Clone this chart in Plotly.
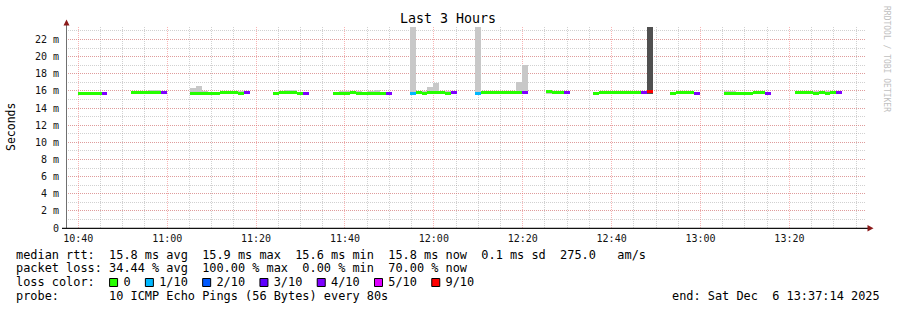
import plotly.graph_objects as go
from datetime import datetime, timedelta

# ---------------- data ----------------
START = datetime(2025, 12, 6, 10, 37, 14)
END = datetime(2025, 12, 6, 13, 37, 14)
STEP_S = 80
N = None

# median rtt per 80 s sample (ms); None = no data
median_ms = [
    N, N, 15.64, 15.64, 15.64, 15.72, 15.72, N, N, N,
    N, 15.86, 15.86, 15.84, 15.86, 15.86, 15.80, N, N, N,
    N, 15.72, 15.72, 15.72, 15.72, 15.72, 15.76, 15.78, 15.78, 15.74,
    15.78, N, N, N, N, 15.74, 15.76, 15.76, 15.76, 15.72,
    15.72, N, N, N, N, 15.74, 15.74, 15.74, 15.76, 15.74,
    15.74, 15.74, 15.72, 15.74, 15.72, N, N, N, 15.73, 15.82,
    15.72, 15.82, 15.82, 15.84, 15.74, 15.76, N, N, N, 15.73,
    15.80, 15.80, 15.80, 15.80, 15.76, 15.80, 15.78, 15.76, N, N,
    N, 15.88, 15.84, 15.84, 15.82, N, N, N, N, 15.74,
    15.84, 15.84, 15.84, 15.84, 15.84, 15.84, 15.84, 15.78, 15.88, N,
    N, N, 15.74, 15.84, 15.84, 15.84, 15.72, N, N, N,
    N, 15.74, 15.74, 15.74, 15.74, 15.74, 15.78, 15.78, 15.74, N,
    N, N, N, 15.84, 15.84, 15.80, 15.74, 15.84, 15.74, 15.84,
    15.84, N, N, N, N,
]
# smoke (spread of the 10 pings): lowest and highest rtt (ms)
smoke_lo_ms = [
    N, N, 15.58, 15.58, 15.60, 15.62, 15.62, N, N, N,
    N, 15.60, 15.60, 15.60, 15.70, 15.70, 15.72, N, N, N,
    N, 15.60, 15.60, 15.60, 15.60, 15.62, 15.62, 15.60, 15.60, 15.58,
    15.60, N, N, N, N, 15.62, 15.58, 15.58, 15.60, 15.60,
    15.62, N, N, N, N, 15.62, 15.62, 15.62, 15.62, 15.62,
    15.60, 15.58, 15.58, 15.62, 15.62, N, N, N, 15.60, 15.65,
    15.60, 15.65, 15.65, 15.65, 15.62, 15.65, N, N, N, 15.60,
    15.62, 15.62, 15.62, 15.62, 15.62, 15.62, 15.62, 15.62, N, N,
    N, 15.60, 15.60, 15.60, 15.60, N, N, N, N, 15.62,
    15.60, 15.60, 15.60, 15.60, 15.60, 15.60, 15.60, 15.62, 15.62, N,
    N, N, 15.62, 15.60, 15.60, 15.60, 15.62, N, N, N,
    N, 15.62, 15.62, 15.60, 15.60, 15.60, 15.60, 15.62, 15.62, N,
    N, N, N, 15.70, 15.70, 15.62, 15.62, 15.62, 15.62, 15.62,
    15.62, N, N, N, N,
]
smoke_hi_ms = [
    N, N, 15.75, 15.75, 15.75, 15.80, 15.80, N, N, N,
    N, 15.92, 15.92, 15.90, 16.10, 16.10, 15.90, N, N, N,
    N, 16.35, 16.58, 15.95, 15.90, 15.90, 16.02, 16.02, 16.02, 15.95,
    15.90, N, N, N, N, 15.85, 16.02, 16.05, 16.05, 15.90,
    15.82, N, N, N, N, 15.90, 15.95, 16.00, 16.02, 15.95,
    15.90, 15.95, 16.10, 15.90, 15.85, N, N, N, 30.0, 15.95,
    15.95, 16.50, 16.90, 15.95, 15.95, 15.85, N, N, N, 30.0,
    15.95, 15.90, 15.95, 15.90, 16.02, 15.90, 17.00, 19.00, N, N,
    N, 15.95, 15.90, 15.90, 15.88, N, N, N, N, 15.85,
    16.02, 16.02, 16.02, 16.02, 15.95, 15.95, 15.90, 15.90, 30.0, N,
    N, N, 15.85, 15.90, 16.02, 16.02, 15.82, N, N, N,
    N, 16.02, 16.02, 15.90, 15.90, 15.90, 15.95, 15.95, 15.82, N,
    N, N, N, 15.92, 15.92, 15.95, 16.02, 16.02, 16.02, 15.95,
    15.95, N, N, N, N,
]
# lost pings out of 10 per sample
lost_pings = [
    N, N, 0, 0, 0, 0, 4, N, N, N,
    N, 0, 0, 0, 0, 0, 4, N, N, N,
    N, 0, 0, 0, 0, 0, 0, 0, 0, 0,
    4, N, N, N, N, 0, 0, 0, 0, 0,
    4, N, N, N, N, 0, 0, 0, 0, 0,
    0, 0, 0, 0, 4, N, N, N, 1, 0,
    0, 0, 0, 0, 0, 4, N, N, N, 1,
    0, 0, 0, 0, 0, 0, 0, 4, N, N,
    N, 0, 0, 0, 4, N, N, N, N, 0,
    0, 0, 0, 0, 0, 0, 0, 4, 9, N,
    N, N, 0, 0, 0, 0, 4, N, N, N,
    N, 0, 0, 0, 0, 0, 0, 0, 4, N,
    N, N, N, 0, 0, 0, 0, 0, 0, 0,
    4, N, N, N, N,
]

loss_levels = [0, 1, 2, 3, 4, 5, 9]
loss_labels = ["0", "1/10", "2/10", "3/10", "4/10", "5/10", "9/10"]
loss_colors = ["#26ff00", "#00b8ff", "#0059ff", "#5e00ff", "#7e00ff", "#dd00ff", "#ff0000"]

y_ticks = [0, 2, 4, 6, 8, 10, 12, 14, 16, 18, 20, 22]
y_ticktext = ["0"] + [f"{v} m" for v in y_ticks[1:]]

title_text = "Last 3 Hours"
legend_lines = [
    "median rtt:  15.8 ms avg  15.9 ms max  15.6 ms min  15.8 ms now  0.1 ms sd  275.0   am/s",
    "packet loss: 34.44 % avg  100.00 % max  0.00 % min  70.00 % now",
    None,
    "probe:       10 ICMP Echo Pings (56 Bytes) every 80s",
]
end_text = "end: Sat Dec  6 13:37:14 2025"

# ---------------- geometry ----------------
W, H = 897, 310
L, R, T, B = 66, 31, 27, 82
PW, PH = W - L - R, H - T - B
MONO = "DejaVu Sans Mono"
CHAR_W = 7.16
FS = 11.9


def px(x):
    return (x - L) / PW


def py(y):
    return (H - B - y) / PH


def nb(s):
    return s.replace(" ", "\u00a0")


color_of = dict(zip(loss_levels, loss_colors))

xs, s_base, s_h, s_col, m_base, m_col = [], [], [], [], [], []
for i, m in enumerate(median_ms):
    if m is None:
        continue
    t = START + timedelta(seconds=STEP_S * i + STEP_S / 2)
    xs.append(t)
    s_base.append(smoke_lo_ms[i])
    s_h.append(smoke_hi_ms[i] - smoke_lo_ms[i])
    s_col.append("#505050" if lost_pings[i] >= 9 else "#c8c8c8")
    m_base.append(m - 0.175)
    m_col.append(color_of[lost_pings[i]])

fig = go.Figure()
fig.add_trace(go.Bar(x=xs, y=s_h, base=s_base, width=STEP_S * 1000,
                     marker=dict(color=s_col, line=dict(width=0)), hoverinfo="skip"))
fig.add_trace(go.Bar(x=xs, y=[0.35] * len(xs), base=m_base, width=STEP_S * 1000,
                     marker=dict(color=m_col, line=dict(width=0)), hoverinfo="skip"))

grid_major = "rgba(240,90,90,0.45)"
grid_minor = "rgba(140,140,140,0.4)"

fig.update_layout(
    width=W, height=H,
    margin=dict(l=L, r=R, t=T, b=B, pad=0),
    paper_bgcolor="white", plot_bgcolor="white",
    showlegend=False, barmode="overlay", bargap=0,
    xaxis=dict(
        type="date", range=[START, END],
        tickmode="linear", tick0="2025-12-06 10:40:00", dtick=20 * 60 * 1000,
        tickformat="%H:%M",
        showgrid=True, gridcolor=grid_major, gridwidth=1, griddash="1px,1px",
        minor=dict(tick0="2025-12-06 10:40:00", dtick=5 * 60 * 1000, showgrid=True,
                   gridcolor=grid_minor, gridwidth=1, griddash="1px,1px"),
        showline=False, zeroline=False, ticks="",
        tickfont=dict(family=MONO, size=10, color="#111"),
        ticklabelstandoff=3,
    ),
    yaxis=dict(
        range=[0, 23.45], tickmode="array", tickvals=y_ticks, ticktext=y_ticktext,
        showgrid=True, gridcolor=grid_major, gridwidth=1, griddash="1px,1px",
        minor=dict(dtick=1, tick0=0, showgrid=True, gridcolor=grid_minor,
                   gridwidth=1, griddash="1px,1px"),
        showline=False, zeroline=False, ticks="",
        tickfont=dict(family=MONO, size=10, color="#111"),
        ticklabelstandoff=6,
    ),
)

shapes = []
# axes
shapes.append(dict(type="line", xref="paper", yref="paper", x0=px(66.5), x1=px(66.5),
                   y0=py(228), y1=py(25), line=dict(color="#707070", width=1)))
shapes.append(dict(type="line", xref="paper", yref="paper", x0=px(62), x1=px(868),
                   y0=py(228.3), y1=py(228.3), line=dict(color="#111", width=1.3)))
arrow_col = "#8b1a1a"
shapes.append(dict(type="path", xref="paper", yref="paper",
                   path=f"M {px(63.5)} {py(25.5)} L {px(69.5)} {py(25.5)} L {px(66.5)} {py(19.5)} Z",
                   fillcolor=arrow_col, line=dict(width=0)))
shapes.append(dict(type="path", xref="paper", yref="paper",
                   path=f"M {px(867.5)} {py(225)} L {px(867.5)} {py(231.5)} L {px(873.5)} {py(228.3)} Z",
                   fillcolor=arrow_col, line=dict(width=0)))

annotations = []
annotations.append(dict(xref="paper", yref="paper", x=px(448), y=py(19), text=nb(title_text),
                        showarrow=False, xanchor="center", yanchor="middle",
                        font=dict(family=MONO, size=13.3, color="#000")))
annotations.append(dict(xref="paper", yref="paper", x=px(11), y=py(127), text="Seconds",
                        textangle=-90, showarrow=False, xanchor="center", yanchor="middle",
                        font=dict(family=MONO, size=11.5, color="#000")))
annotations.append(dict(xref="paper", yref="paper", x=px(887), y=py(59),
                        text=nb("RRDTOOL / TOBI OETIKER"), textangle=90, showarrow=False,
                        xanchor="center", yanchor="middle",
                        font=dict(family=MONO, size=8, color="#c0c0c0")))

line_y = [254.7, 268.4, 282.3, 296.0]
X0 = 16
# loss color line
loss_line = "loss color:  "
square_cols = []
for lab in loss_labels:
    square_cols.append(len(loss_line))
    loss_line += "  " + lab + "  "
legend_lines[2] = loss_line.rstrip()

for ln, yy in zip(legend_lines, line_y):
    annotations.append(dict(xref="paper", yref="paper", x=px(X0 - 1), y=py(yy), text=nb(ln),
                            showarrow=False, xanchor="left", yanchor="middle", borderpad=0,
                            font=dict(family=MONO, size=FS, color="#000")))
annotations.append(dict(xref="paper", yref="paper", x=px(881), y=py(296.0), text=nb(end_text),
                        showarrow=False, xanchor="right", yanchor="middle", borderpad=0,
                        font=dict(family=MONO, size=FS, color="#000")))

for col, c in zip(square_cols, loss_colors):
    x0 = X0 + col * CHAR_W
    shapes.append(dict(type="rect", xref="paper", yref="paper",
                       x0=px(x0 + 0.5), x1=px(x0 + 8.5), y0=py(278.5), y1=py(286.5),
                       fillcolor=c, line=dict(color="#000", width=1)))

fig.update_layout(shapes=shapes, annotations=annotations)
fig.write_html("out.html")
